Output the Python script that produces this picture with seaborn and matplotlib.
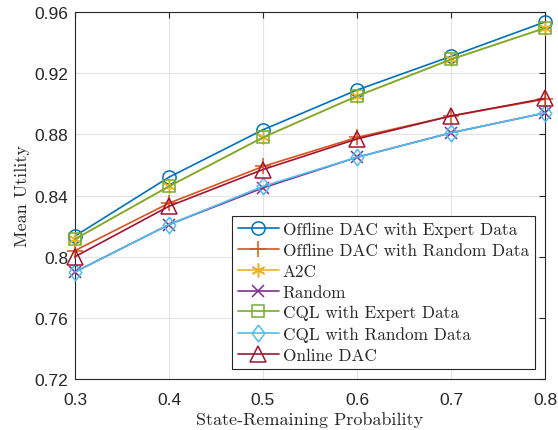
import matplotlib
matplotlib.use("Agg")
import matplotlib.pyplot as plt
import seaborn as sns
import pandas as pd

x_vals = [0.3, 0.4, 0.5, 0.6, 0.7, 0.8]
offline_dac_expert = [0.8135, 0.852, 0.883, 0.909, 0.931, 0.9535]
offline_dac_random = [0.804, 0.835, 0.859, 0.878, 0.892, 0.903]
a2c = [0.8115, 0.846, 0.878, 0.905, 0.929, 0.9495]
random_policy = [0.790, 0.821, 0.845, 0.865, 0.881, 0.894]
cql_expert = [0.8115, 0.846, 0.878, 0.905, 0.929, 0.9495]
cql_random = [0.790, 0.821, 0.846, 0.865, 0.881, 0.894]
online_dac = [0.800, 0.833, 0.857, 0.877, 0.892, 0.9035]

series_names = ["Offline DAC with Expert Data", "Offline DAC with Random Data", "A2C",
                "Random", "CQL with Expert Data", "CQL with Random Data", "Online DAC"]
series_values = [offline_dac_expert, offline_dac_random, a2c, random_policy,
                 cql_expert, cql_random, online_dac]
colors = ["#0072BD", "#D95319", "#EDB120", "#7E2F8E", "#77AC30", "#4DBEEE", "#A2142F"]
diamond = [(0, 1), (0.76, 0), (0, -1), (-0.76, 0), (0, 1)]
markers = ["o", "+", (6, 2, 0), "x", "s", diamond, "^"]
msizes = [9.5, 11, 10, 8, 8, 12, 11]

yticks = [0.72, 0.76, 0.80, 0.84, 0.88, 0.92, 0.96]
ytick_labels = ["0.72", "0.76", "0.8", "0.84", "0.88", "0.92", "0.96"]
xticks = [0.3, 0.4, 0.5, 0.6, 0.7, 0.8]
xtick_labels = ["0.3", "0.4", "0.5", "0.6", "0.7", "0.8"]

sns.set_theme(style="whitegrid")
plt.rcParams["font.family"] = ["Liberation Sans", "DejaVu Sans"]

fig = plt.figure(figsize=(5.58, 4.31), dpi=100)
ax = fig.add_axes([0.1344, 0.1183, 0.8423, 0.8515])

rows = []
for name, vals in zip(series_names, series_values):
    for xv, yv in zip(x_vals, vals):
        rows.append({"x": xv, "y": yv, "series": name})
df = pd.DataFrame(rows)

for i, name in enumerate(series_names):
    sub = df[df["series"] == name]
    sns.lineplot(data=sub, x="x", y="y", ax=ax, color=colors[i], marker=markers[i],
                 markersize=msizes[i], markerfacecolor="none", markeredgecolor=colors[i],
                 markeredgewidth=1.1, linewidth=1.2, label=name, zorder=3 + i * 0.01,
                 clip_on=False)

ax.set_xlim(0.3, 0.8)
ax.set_ylim(0.72, 0.96)
ax.set_xticks(xticks)
ax.set_xticklabels(xtick_labels)
ax.set_yticks(yticks)
ax.set_yticklabels(ytick_labels)
ax.tick_params(axis="both", labelsize=12.5, colors="#262626", direction="in",
               top=True, right=True, length=4, width=0.8)
ax.tick_params(axis="x", pad=9)
ax.tick_params(axis="y", pad=5)
for lab in ax.get_xticklabels() + ax.get_yticklabels():
    lab.set_color("#262626")
ax.grid(True, color="#e3e3e3", linewidth=0.8)
for s in ax.spines.values():
    s.set_color("#262626")
    s.set_linewidth(0.8)
ax.set_facecolor("white")

ax.set_xlabel("State-Remaining Probability", fontfamily="cmr10", fontsize=13, color="#262626", labelpad=3)
ax.set_ylabel("Mean Utility", fontfamily="cmr10", fontsize=13, color="#262626", labelpad=3)

leg = ax.legend(loc="lower right", prop={"family": "cmr10", "size": 12.4}, frameon=True,
                fancybox=False, edgecolor="#262626", framealpha=1, handlelength=2.4,
                borderpad=0.35, labelspacing=0.32, handletextpad=0.2, borderaxespad=0.6)
leg.get_frame().set_linewidth(0.8)

fig.savefig("out.png", dpi=100)
